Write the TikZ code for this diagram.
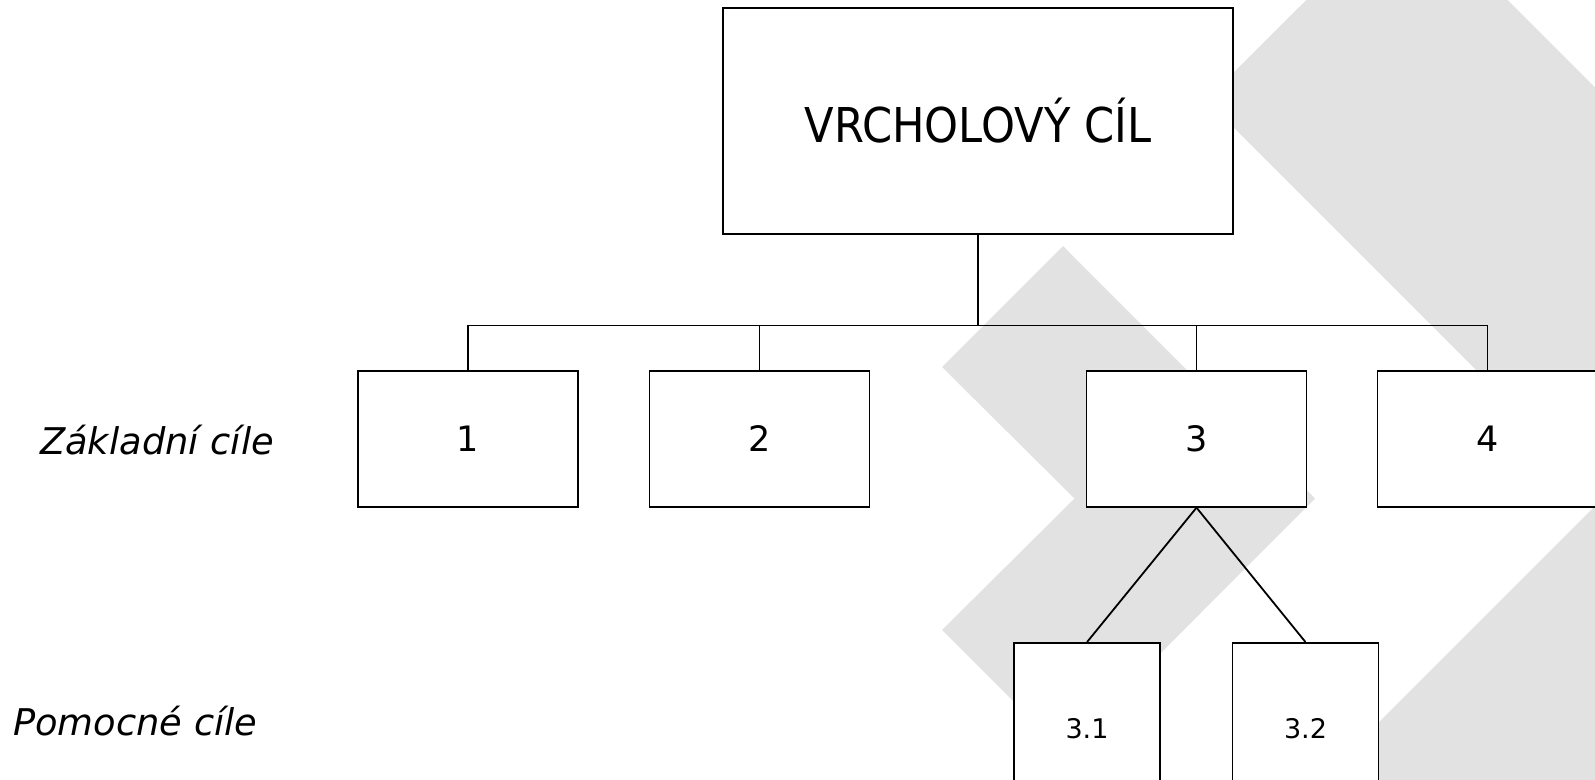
\documentclass[tikz,border=0pt]{standalone}
\usepackage{fontspec}
\setmainfont{DejaVu Sans}
\newfontfamily\titlefont[FakeStretch=0.9]{DejaVu Sans}
\definecolor{bggray}{RGB}{225,226,225}
\tikzset{
  goalbox/.style={draw=black, line width=1.8pt, fill=white, inner sep=0pt, align=center},
  conn/.style={draw=black, line width=1.8pt},
  rowlabel/.style={inner sep=0pt, anchor=base west, font=\fontsize{36.8}{44}\selectfont\itshape},
}
\begin{document}
\begin{tikzpicture}[x=1pt,y=-1pt]
\useasboundingbox (0,0) rectangle (1595,779);
% background chevrons
\begin{scope}
\clip (0,0) rectangle (1595,779);
\fill[bggray] (1407,-100.5) -- (2005,497.5) -- (1407,1095.5) -- (1206,895) -- (1603.5,497.5) -- (1206,100) -- cycle;
\fill[bggray] (1063,246) -- (1315,498.5) -- (1063,751) -- (942,630) -- (1074.5,498.5) -- (942,367) -- cycle;
\end{scope}
% bus level
\coordinate (busy) at (0,325.5);
% nodes
\node[goalbox, minimum width=510pt, minimum height=226pt, font=\titlefont\fontsize{48}{58}\selectfont] (top) at (978,121) {VRCHOLOVÝ CÍL};
\node[goalbox, minimum width=220pt, minimum height=135.5pt, font=\fontsize{35}{42}\selectfont] (b1) at (468,439) {1};
\node[goalbox, minimum width=220pt, minimum height=135.5pt, font=\fontsize{35}{42}\selectfont] (b2) at (759.5,439) {2};
\node[goalbox, minimum width=220pt, minimum height=135.5pt, font=\fontsize{35}{42}\selectfont] (b3) at (1196.5,439) {3};
\node[goalbox, minimum width=220pt, minimum height=135.5pt, font=\fontsize{35}{42}\selectfont] (b4) at (1487.5,439) {4};
\node[goalbox, minimum width=146pt, minimum height=172pt, font=\fontsize{27}{32}\selectfont] (b31) at (1087,729) {3.1};
\node[goalbox, minimum width=146pt, minimum height=172pt, font=\fontsize{27}{32}\selectfont] (b32) at (1305.5,729) {3.2};
% row labels
\node[rowlabel] (lz) at (40,454) {Základní cíle};
\node[rowlabel] (lp) at (13,735) {Pomocné cíle};
% connectors
\draw[conn] (top.south) -- (top.south |- busy);
\draw[conn] (b1.north) -- (b1.north |- busy) -- (b4.north |- busy) -- (b4.north);
\draw[conn] (b2.north) -- (b2.north |- busy);
\draw[conn] (b3.north) -- (b3.north |- busy);
\draw[conn] (b3.south) -- (b31.north);
\draw[conn] (b3.south) -- (b32.north);
\end{tikzpicture}
\end{document}
